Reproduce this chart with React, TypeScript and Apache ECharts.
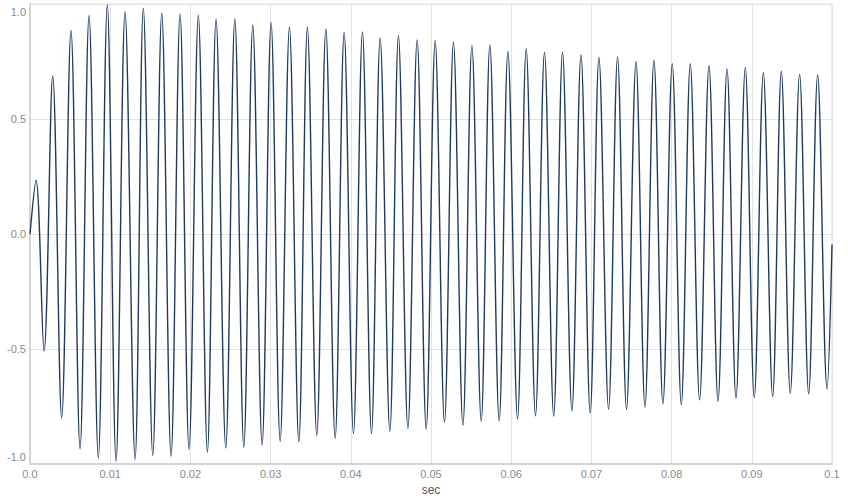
import React, { useEffect, useRef } from 'react';
import * as echarts from 'echarts';

// Extrema of the waveform (time in ms, amplitude)
const extremaMs = [
	0, 0.75, 1.75, 2.83, 3.95, 5.11, 6.24, 7.36, 8.52, 9.64, 10.73, 11.85, 13.1, 14.13, 15.31, 16.43, 17.59, 18.71, 19.83, 20.99, 22.12, 23.2, 24.41, 25.54,
	26.66, 27.78, 28.94, 30.06, 31.19, 32.35, 33.52, 34.59, 35.76, 36.89, 38.05, 39.17, 40.33, 41.45, 42.58, 43.66, 44.87, 45.94, 47.12, 48.27, 49.4, 50.52,
	51.68, 52.8, 53.98, 55.1, 56.26, 57.34, 58.5, 59.59, 60.79, 61.87, 63.03, 64.15, 65.3, 66.4, 67.57, 68.7, 69.85, 70.94, 72.14, 73.26, 74.38, 75.56,
	76.68, 77.8, 78.92, 80.08, 81.21, 82.33, 83.49, 84.66, 85.79, 86.91, 88.03, 89.19, 90.31, 91.44, 92.6, 93.68, 94.8, 95.96, 97.09, 98.21, 99.38, 100.0
];

const extremaVals = [
	0, 0.234, -0.509, 0.687, -0.8, 0.885, -0.934, 0.95, -0.973, 0.996, -0.987, 0.967, -0.98, 0.981, -0.963, 0.96, -0.966, 0.957, -0.937, 0.95, -0.948,
	0.934, -0.93, 0.935, -0.927, 0.909, -0.918, 0.919, -0.901, 0.899, -0.904, 0.899, -0.876, 0.891, -0.888, 0.876, -0.868, 0.878, -0.868, 0.852, -0.858,
	0.862, -0.846, 0.845, -0.848, 0.842, -0.819, 0.835, -0.832, 0.82, -0.815, 0.823, -0.813, 0.794, -0.805, 0.806, -0.79, 0.79, -0.793, 0.79, -0.769, 0.78,
	-0.779, 0.769, -0.762, 0.77, -0.762, 0.749, -0.753, 0.756, -0.738, 0.74, -0.743, 0.74, -0.721, 0.733, -0.728, 0.718, -0.714, 0.723, -0.711, 0.701,
	-0.707, 0.708, -0.693, 0.694, -0.695, 0.691, -0.674, -0.046
];

const xTicks = [0, 0.01, 0.02, 0.03, 0.04, 0.05, 0.06, 0.07, 0.08, 0.09, 0.1];
const yTicks = [-1, -0.5, 0, 0.5, 1];

const App: React.FC = () => {
	const chartRef = useRef<HTMLDivElement>(null);

	useEffect(() => {
		if (!chartRef.current) return;
		document.body.style.margin = '0';

		const chart = echarts.init(chartRef.current, null, { renderer: 'svg' });

		const seriesData = extremaMs.map((t, i) => [t / 1000, extremaVals[i]]);
		const gridColor = '#e3e3e3';
		const labelColor = '#8a8a8a';

		const option: echarts.EChartsOption = {
			animation: false,
			backgroundColor: '#fff',
			textStyle: { fontFamily: 'Liberation Sans, Arial, sans-serif' },
			grid: {
				left: 30,
				right: 16,
				top: 4,
				bottom: 34,
				show: true,
				borderColor: '#dcdcdc',
				borderWidth: 1
			},
			xAxis: {
				type: 'value',
				min: xTicks[0],
				max: xTicks[xTicks.length - 1],
				interval: 0.01,
				name: 'sec',
				nameLocation: 'middle',
				nameGap: 20,
				nameTextStyle: { color: '#555', fontSize: 12 },
				axisLine: { show: true, onZero: false, lineStyle: { color: '#d4d4d4', width: 2 } },
				axisTick: { show: false },
				axisLabel: {
					color: labelColor,
					fontSize: 11,
					margin: 4,
					formatter: (v: number) => (v === 0 ? '0.0' : String(+v.toFixed(2)))
				},
				splitLine: { show: true, lineStyle: { color: gridColor, width: 1 } }
			},
			yAxis: {
				type: 'value',
				min: yTicks[0],
				max: yTicks[yTicks.length - 1],
				interval: 0.5,
				axisLine: { show: true, onZero: false, lineStyle: { color: '#d4d4d4', width: 2 } },
				axisTick: { show: false },
				axisLabel: {
					color: labelColor,
					fontSize: 11,
					margin: 4,
					formatter: (v: number) => {
						if (v === 1) return '{t|1.0}';
						if (v === -1) return '{b|-1.0}';
						return '{n|' + v.toFixed(1) + '}';
					},
					rich: {
						t: { color: labelColor, fontSize: 11, padding: [16, 0, 0, 0] },
						b: { color: labelColor, fontSize: 11, padding: [0, 0, 14, 0] },
						n: { color: labelColor, fontSize: 11 }
					}
				},
				splitLine: { show: true, lineStyle: { color: gridColor, width: 1 } }
			},
			series: [
				{
					type: 'line',
					data: seriesData,
					smooth: 0.36,
					showSymbol: false,
					clip: true,
					lineStyle: { color: '#1d3a5f', width: 1.4 }
				}
			]
		};

		chart.setOption(option);

		return () => {
			chart.dispose();
		};
	}, []);

	return <div ref={chartRef} style={{ width: '848px', height: '501px' }} />;
};

export default App;
